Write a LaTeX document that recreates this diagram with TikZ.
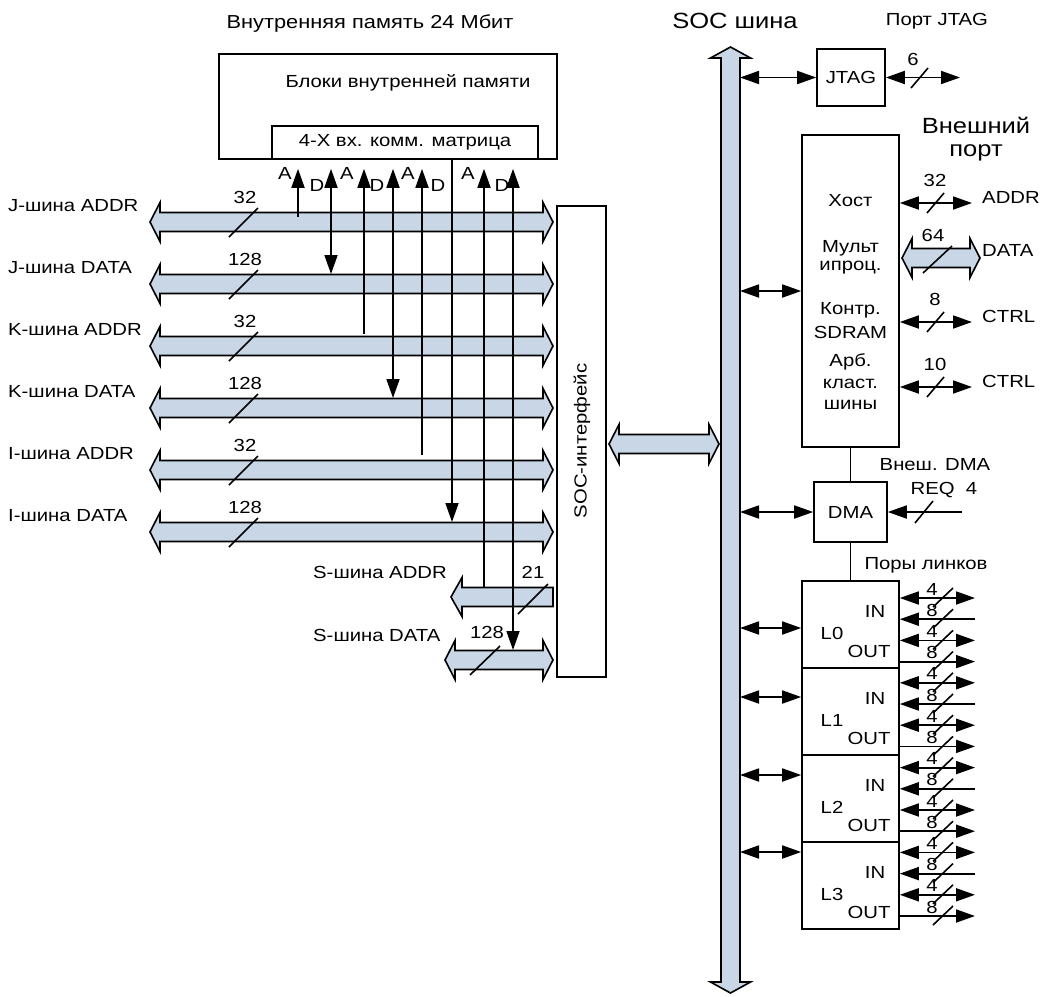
\documentclass[tikz,border=0pt]{standalone}
\usepackage{fontspec}
\setmainfont{Liberation Sans}[FakeStretch=1.16]
\usepackage{tikz}
\usetikzlibrary{
  arrows.meta,
  positioning
}
\definecolor{BusBlue}{RGB}{200, 214, 230}
\tikzset{
  blk/.style={draw, line width=1.6pt, inner sep=0pt},
  txt/.style={font=\fontsize{17.5}{20}\selectfont, inner sep=0pt},
  ttl/.style={font=\fontsize{18.8}{22}\selectfont, inner sep=0pt},
  bigttl/.style={font=\fontsize{22}{25}\selectfont, inner sep=0pt},
  bus/.style={draw, line width=1.6pt, fill=BusBlue, line join=miter},
  wire/.style={line width=1.8pt},
  slash/.style={line width=1.6pt},
  pboth/.style={<->},
  pin/.style={<-},
  pout/.style={->}
}
% double-headed bus: x-left, x-right, y
\newcommand{\hbus}[3]{%
  \draw[bus] (#1,#3) -- ++(10,-19.5) -- ++(0,10) -- (#2-10,#3-9.5) -- ++(0,-10) -- (#2,#3)
    -- ++(-10,19.5) -- ++(0,-10) -- (#1+10,#3+9.5) -- ++(0,10) -- cycle;}
% vertical bus: x, y-top, y-bottom
\newcommand{\vbus}[3]{%
  \draw[bus] (#1,#2) -- ++(20,11) -- ++(-10.5,0) -- (#1+9.5,#3-11) -- ++(10.5,0) -- (#1,#3)
    -- ++(-20,-11) -- ++(10.5,0) -- (#1-9.5,#2+11) -- ++(-10.5,0) -- cycle;}

\begin{document}
\begin{tikzpicture}[x=1pt, y=-1pt, >={Triangle[length=19pt,width=13pt]}]
\useasboundingbox (0,0) rectangle (1041,996);

\node[ttl] (memttl) at (370,24) {Внутренняя память 24 Мбит};
\node[blk, minimum width=338pt, minimum height=105pt] (mem) at (388,106.5) {};
\node[txt] (memtxt) at (408,83) {Блоки внутренней памяти};
\node[blk, txt, minimum width=266pt, minimum height=33pt] (mtx) at (405,142.5) {4-Х вх. комм. матрица};
\node[blk, minimum width=49pt, minimum height=471pt] (socif) at (581.5,441.5) {};
\node[txt, rotate=90] (socift) at (582,441) {SOC-интерфейс};

\foreach \y/\lbl/\w [count=\i] in {222/J-шина ADDR/32, 284/J-шина DATA/128,
    346/K-шина ADDR/32, 408/K-шина DATA/128, 470/I-шина ADDR/32, 532/I-шина DATA/128} {
  \hbus{150}{553}{\y}
  \node[txt, anchor=west] (bl\i) at (8,\y-16) {\lbl};
  \node[txt] (bw\i) at (245,\y-25) {\w};
  \draw[slash] (229,\y+15) -- (258,\y-14);
}

\draw[bus] (451,597) -- ++(11,-19.5) -- ++(0,10) -- (553,587.5) -- (553,606.5)
  -- (462,606.5) -- ++(0,10) -- cycle;
\node[txt, anchor=west] (saddr) at (313,572) {S-шина ADDR};
\node[txt] (sw1) at (533,572) {21};
\draw[slash] (518,614) -- (548,584);
\hbus{445}{553}{660}
\node[txt, anchor=west] (sdata) at (313,635) {S-шина DATA};
\node[txt] (sw2) at (487,632) {128};
\draw[slash] (470,675) -- (500,646);

\coordinate (tips) at ([yshift=-9pt]mtx.south);
\foreach \x/\yb [count=\i] in {298/217, 364/334, 422/455, 484/588} {
  \coordinate (va\i) at (\x,\yb);
  \draw[wire,->] (va\i) -- (tips -| va\i);
}
\foreach \x/\yb [count=\i] in {331/274, 393/398, 513/650} {
  \coordinate (vd\i) at (\x,\yb);
  \draw[wire,<->] (tips -| vd\i) -- (vd\i);
}
\coordinate (vd4) at (452,522);
\draw[wire,->] (mtx.south -| vd4) -- (vd4);
\foreach \x/\y/\l [count=\i] in {285/173/A, 317/185/D, 347/173/A, 377/185/D,
    408/173/A, 438/185/D, 468/173/A, 502/185/D}
  \node[txt] (ad\i) at (\x,\y) {\l};

\hbus{609}{719}{444}

\vbus{730.5}{47}{993}
\node[bigttl] (socttl) at (735,21) {SOC шина};
\coordinate (socE) at (740,0);

\node[txt] (jtagttl) at (937,21) {Порт JTAG};
\node[blk, txt, minimum width=68pt, minimum height=57pt] (jtag) at (851,77.5) {JTAG};
\coordinate (jtagp) at (960,77.5);
\draw[wire,<->] (socE |- jtag.west) -- (jtag.west);
\draw[wire,<->] (jtag.east) -- (jtagp);
\draw[slash] (911,88) -- (928,68);
\node[txt] (jtagw) at (913,59) {6};

\node[bigttl] (extttl1) at (976,125) {Внешний};
\node[bigttl] (extttl2) at (976,153) {порт};
\node[blk, minimum width=97pt, minimum height=312pt] (host) at (850.5,291) {};
\foreach \t/\y [count=\i] in {Хост/201, Мульт/248, ипроц./268, Контр./310,
    SDRAM/332, Арб./362, класт./384, шины/405}
  \node[txt] (ht\i) at (850.5,\y) {\t};
\draw[wire,<->] (socE |- host.west) -- (host.west);

\foreach \y/\w/\l [count=\i] in {203/32/ADDR, 322/8/CTRL, 387/10/CTRL} {
  \coordinate (hp\i) at (972,\y);
  \draw[wire,<->] (host.east |- hp\i) -- (hp\i);
  \draw[slash] (927,\y+10) -- (944,\y-10);
  \node[txt] (hw\i) at (935,\y-23) {\w};
  \node[txt, anchor=west] (hl\i) at (982,\y-6) {\l};
}
\hbus{902}{980}{258}
\draw[slash] (923,273) -- (952,246);
\node[txt] (hw4) at (933,235) {64};
\node[txt, anchor=west] (hl4) at (982,250) {DATA};

\node[blk, txt, minimum width=73pt, minimum height=60pt] (dma) at (850.5,512) {DMA};
\draw[wire] (host.south) -- (dma.north);
\draw[wire,<->] (socE |- dma.west) -- (dma.west);
\coordinate (req) at (962,512);
\draw[wire,->] (req) -- (dma.east);
\draw[slash] (915,523) -- (933,501);
\node[txt] (reqttl) at (935,465) {Внеш. DMA};
\node[txt] (reqw) at (944,490) {REQ\ \ 4};

\node[txt] (linkttl) at (926,565) {Поры линков};
\foreach \i in {0,...,3} {
  \node[blk, minimum width=97pt, minimum height=87pt] (L\i) at (850.5,624.5+87*\i) {};
  \node[txt] (in\i) at (875,611+87*\i) {IN};
  \node[txt] (ln\i) at (832,633+87*\i) {L\i};
  \node[txt] (out\i) at (869,651+87*\i) {OUT};
}
\draw[wire] (dma.south) -- (L0.north);
\foreach \y [count=\i from 0] in {628, 697, 775, 852} {
  \coordinate (lk\i) at (740,\y);
  \draw[wire,<->] (lk\i) -- (L\i.west |- lk\i);
}
\foreach \b in {0,...,3}
  \foreach \j/\arr/\w in {0/pboth/4, 1/pin/8, 2/pboth/4, 3/pout/8} {
    \pgfmathsetmacro\yy{598+21.2*(4*\b+\j)}
    \coordinate (pe\b\j) at (975,\yy);
    \draw[wire,\arr] (L\b.east |- pe\b\j) -- (pe\b\j);
    \draw[slash] (933,\yy+9) -- (953,\yy-10);
    \node[txt] (pw\b\j) at (932,\yy-9) {\w};
  }
\end{tikzpicture}
\end{document}
